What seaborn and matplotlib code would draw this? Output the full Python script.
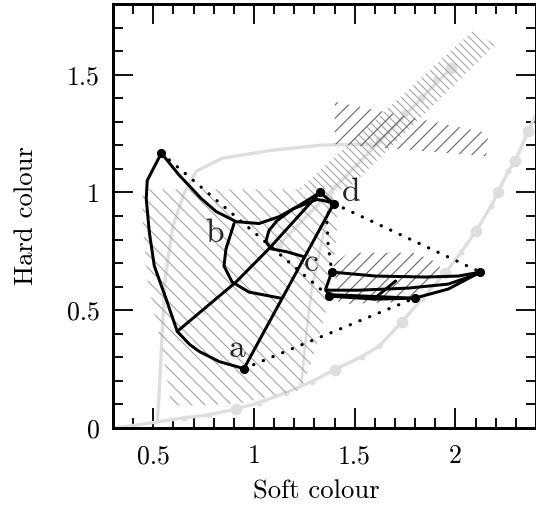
import matplotlib
matplotlib.use("Agg")
import matplotlib.pyplot as plt
import seaborn as sns

# ---------------- data ----------------
# light-grey model track along the bottom/right
track_x = [0.297, 0.391, 0.520, 0.653, 0.777, 0.911, 1.025, 1.158, 1.287, 1.401, 1.535,
           1.619, 1.733, 1.832, 1.950, 2.030, 2.104, 2.178, 2.213, 2.262, 2.297, 2.361, 2.40]
track_y = [0.000, 0.009, 0.026, 0.043, 0.056, 0.081, 0.107, 0.150, 0.197, 0.248, 0.303,
           0.346, 0.449, 0.547, 0.658, 0.748, 0.838, 0.944, 1.004, 1.090, 1.132, 1.261, 1.33]
track_big_x = [0.911, 1.401, 1.733, 1.950, 2.104, 2.213, 2.297, 2.361]
track_big_y = [0.081, 0.248, 0.449, 0.658, 0.838, 1.004, 1.132, 1.261]
track_small_x = [0.391, 0.653, 0.777, 1.025, 1.158, 1.287, 1.535, 1.619, 1.832, 2.030, 2.178, 2.262]
track_small_y = [0.009, 0.043, 0.056, 0.107, 0.150, 0.197, 0.303, 0.346, 0.547, 0.748, 0.944, 1.090]

# light-grey diagonal track
diag_x = [1.124, 1.980]
diag_y = [0.778, 1.530]
diag_dot_x = [1.124, 1.619, 1.752, 1.827, 1.906]
diag_dot_y = [0.778, 1.222, 1.338, 1.402, 1.479]
diag_big_x = [1.980]
diag_big_y = [1.530]

# light-grey curve rising from the track on the left
gc_x = [0.520, 0.530, 0.545, 0.559, 0.594, 0.653, 0.713, 0.842, 1.089, 1.337, 1.584]
gc_y = [0.026, 0.162, 0.419, 0.632, 0.846, 0.996, 1.090, 1.145, 1.179, 1.201, 1.205]

# light-grey line from the track up to the diagonal
gd_x = [1.233, 1.262, 1.287, 1.332, 1.361, 1.396]
gd_y = [0.175, 0.419, 0.590, 0.774, 0.889, 1.026]

# hatched regions
big_hx = [0.446, 1.411, 1.411, 1.356, 1.287, 1.233, 0.926, 0.644, 0.589, 0.545, 0.470, 0.446]
big_hy = [1.013, 1.013, 0.803, 0.491, 0.282, 0.162, 0.103, 0.094, 0.098, 0.333, 0.632, 0.889]
band_hx = [2.084, 2.198, 1.465, 1.223]
band_hy = [1.684, 1.628, 1.013, 1.013]
ur_hx = [1.401, 2.163, 2.153, 1.401]
ur_hy = [1.385, 1.252, 1.154, 1.205]
rl_hx = [1.396, 1.470, 1.792, 1.916, 1.931, 1.817, 1.718, 1.421]
rl_hy = [0.697, 0.744, 0.744, 0.701, 0.654, 0.568, 0.534, 0.526]

# left model grid
left_edge_x = [0.540, 0.470, 0.465, 0.480, 0.505, 0.564, 0.619, 0.680, 0.728, 0.827, 0.950]
left_edge_y = [1.167, 1.051, 0.974, 0.833, 0.688, 0.547, 0.410, 0.355, 0.325, 0.282, 0.252]
upper_edge_x = [0.540, 0.629, 0.738, 0.812, 0.911, 1.025, 1.124, 1.223, 1.327]
upper_edge_y = [1.167, 1.073, 0.974, 0.919, 0.876, 0.868, 0.897, 0.944, 1.000]
a_line_x = [0.950, 1.396]
a_line_y = [0.252, 0.953]
top_link_x = [1.327, 1.396]
top_link_y = [1.000, 0.953]
diag_grid_x = [0.619, 0.911, 1.074, 1.287, 1.327]
diag_grid_y = [0.410, 0.620, 0.761, 0.962, 1.000]
b_curve_x = [0.901, 0.861, 0.851, 0.891, 0.975, 1.134]
b_curve_y = [0.868, 0.761, 0.688, 0.620, 0.577, 0.551]
c_curve_x = [1.396, 1.350, 1.312, 1.198, 1.114, 1.074, 1.059, 1.084, 1.163, 1.252]
c_curve_y = [0.953, 0.965, 0.970, 0.932, 0.880, 0.838, 0.791, 0.761, 0.748, 0.726]

# right model grid
r_top_x = [1.386, 1.604, 1.851, 2.015, 2.124]
r_top_y = [0.662, 0.645, 0.641, 0.645, 0.662]
r_left_x = [1.386, 1.356, 1.371]
r_left_y = [0.662, 0.590, 0.560]
r_mid_x = [1.356, 1.520, 1.767, 1.965, 2.124]
r_mid_y = [0.585, 0.585, 0.594, 0.611, 0.658]
r_bot_x = [1.371, 1.604, 1.797, 1.965, 2.124]
r_bot_y = [0.560, 0.547, 0.551, 0.590, 0.662]
r_bot2_x = [1.371, 1.550, 1.797]
r_bot2_y = [0.566, 0.560, 0.551]
r_cross_x = [1.703, 1.594]
r_cross_y = [0.624, 0.547]

# corner points
dots_x = [0.540, 0.950, 1.327, 1.396, 1.386, 2.124, 1.371, 1.797]
dots_y = [1.167, 0.252, 1.000, 0.953, 0.662, 0.662, 0.560, 0.551]

# dotted connectors
dot1_x = [0.540, 1.371]; dot1_y = [1.167, 0.560]
dot2_x = [1.396, 1.360, 1.368, 1.386]; dot2_y = [0.953, 0.900, 0.780, 0.662]
dot3_x = [1.396, 2.124]; dot3_y = [0.953, 0.662]
dot4_x = [0.950, 1.797]; dot4_y = [0.252, 0.551]

labels = ["a", "b", "c", "d"]
label_x = [0.918, 0.802, 1.287, 1.482]
label_y = [0.303, 0.791, 0.667, 0.962]

xticks = [0.5, 1.0, 1.5, 2.0]
xticklabels = ["0.5", "1", "1.5", "2"]
yticks = [0.0, 0.5, 1.0, 1.5]
yticklabels = ["0", "0.5", "1", "1.5"]

# ---------------- drawing ----------------
sns.set_theme(style="ticks")
plt.rcParams["font.family"] = ["cmr10", "DejaVu Serif"]
plt.rcParams["axes.formatter.use_mathtext"] = True
plt.rcParams["hatch.linewidth"] = 0.7

DPI = 120
fig = plt.figure(figsize=(536 / DPI, 510 / DPI), dpi=DPI)
ax = fig.add_axes([113 / 536, 1 - 428 / 510, (536 - 113) / 536, 424 / 510])

LG = "#dedede"

def line(x, y, **kw):
    sns.lineplot(x=x, y=y, ax=ax, sort=False, estimator=None, **kw)

# grey tracks
line(track_x, track_y, color=LG, linewidth=2.0, zorder=1)
ax.plot(track_big_x, track_big_y, "o", color=LG, ms=7, mew=0, zorder=1)
ax.plot(track_small_x, track_small_y, "o", color=LG, ms=3.5, mew=0, zorder=1)
line(diag_x, diag_y, color=LG, linewidth=2.0, zorder=1)
ax.plot(diag_dot_x, diag_dot_y, "o", color=LG, ms=4.5, mew=0, zorder=1)
ax.plot(diag_big_x, diag_big_y, "o", color=LG, ms=7, mew=0, zorder=1)
line(gc_x, gc_y, color=LG, linewidth=2.0, zorder=1)
line(gd_x, gd_y, color=LG, linewidth=1.6, zorder=1)

# hatched regions
ax.fill(big_hx, big_hy, facecolor="none", edgecolor="#a8a8a8", hatch="\\\\\\", linewidth=0, zorder=2)
ax.fill(band_hx, band_hy, facecolor="none", edgecolor="#a8a8a8", hatch="\\\\\\\\\\", linewidth=0, zorder=2)
ax.fill(ur_hx, ur_hy, facecolor="none", edgecolor="#6a6a6a", hatch="///", linewidth=0, zorder=2)
ax.fill(rl_hx, rl_hy, facecolor="none", edgecolor="#6a6a6a", hatch="///", linewidth=0, zorder=2)

# dotted connectors
for xs, ys in [(dot1_x, dot1_y), (dot2_x, dot2_y), (dot3_x, dot3_y), (dot4_x, dot4_y)]:
    line(xs, ys, color="black", linewidth=1.9, linestyle=(0, (0.1, 3.2)),
         dash_capstyle="round", zorder=3)

# model grids
for xs, ys in [(left_edge_x, left_edge_y), (upper_edge_x, upper_edge_y), (a_line_x, a_line_y),
               (top_link_x, top_link_y), (diag_grid_x, diag_grid_y), (b_curve_x, b_curve_y),
               (c_curve_x, c_curve_y), (r_top_x, r_top_y), (r_left_x, r_left_y),
               (r_mid_x, r_mid_y), (r_bot_x, r_bot_y), (r_bot2_x, r_bot2_y),
               (r_cross_x, r_cross_y)]:
    line(xs, ys, color="black", linewidth=1.8, zorder=4, solid_capstyle="round",
         solid_joinstyle="round")
sns.scatterplot(x=dots_x, y=dots_y, ax=ax, color="black", s=30, linewidth=0, zorder=5)

for t, tx, ty in zip(labels, label_x, label_y):
    ax.text(tx, ty, t, ha="center", va="baseline", fontsize=20, zorder=6)

ax.set_xlim(0.3, 2.4)
ax.set_ylim(0, 1.8)
ax.set_xticks(xticks)
ax.set_xticklabels(xticklabels)
ax.set_yticks(yticks)
ax.set_yticklabels(yticklabels)
ax.set_xticks([0.3 + 0.1 * i for i in range(22)], minor=True)
ax.set_yticks([0.1 * i for i in range(19)], minor=True)
ax.tick_params(which="both", direction="in", top=True, right=True, color="black",
               labelsize=15.5, labelcolor="black")
ax.tick_params(which="major", length=12, width=1.1)
ax.tick_params(which="minor", length=6, width=1.1)
ax.tick_params(axis="x", which="major", pad=10)
ax.tick_params(axis="y", which="major", pad=8)
for s in ax.spines.values():
    s.set_linewidth(1.8)
    s.set_color("black")

ax.set_xlabel("Soft colour", fontsize=16, color="black")
ax.set_ylabel("Hard colour", fontsize=16, color="black")
ax.xaxis.set_label_coords((316 - 113) / 423, (428 - 480) / 424)
ax.yaxis.set_label_coords((38 - 113) / 423, 0.5)

fig.savefig("out.png", dpi=DPI)
